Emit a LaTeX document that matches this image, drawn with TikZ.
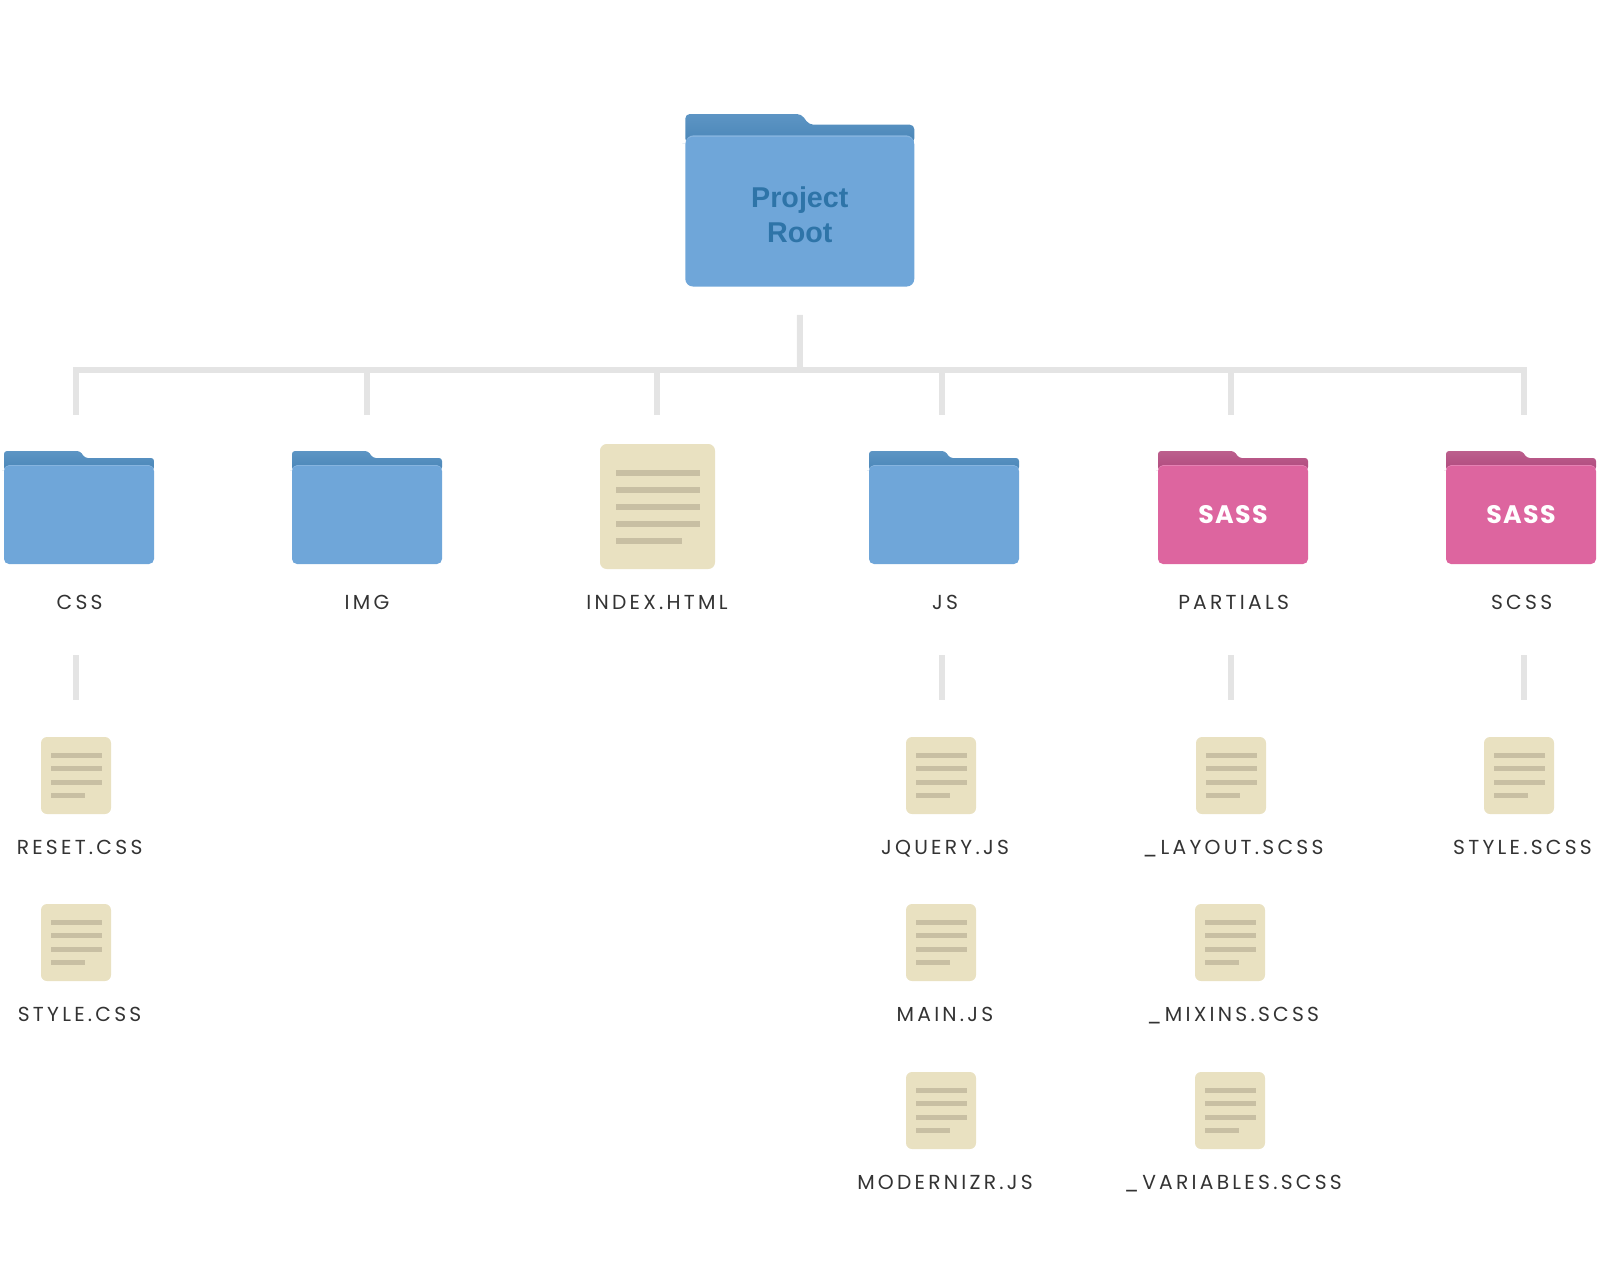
\documentclass[tikz,border=0pt]{standalone}
\usepackage{fontspec}
\newfontfamily\labelfont[LetterSpace=16]{Poppins}
\newfontfamily\sassfont[LetterSpace=5]{Poppins}
\newfontfamily\rootfont{Liberation Sans}
\definecolor{bluetab}{HTML}{5D95C4}
\definecolor{blueback}{HTML}{4A86B8}
\definecolor{bluelight}{HTML}{86B4DF}
\definecolor{bluefront}{HTML}{6FA6D9}
\definecolor{pinktab}{HTML}{BC5F8D}
\definecolor{pinkback}{HTML}{B04A7E}
\definecolor{pinklight}{HTML}{E581B3}
\definecolor{pinkfront}{HTML}{DD659F}
\definecolor{rootink}{HTML}{2E74A8}
\definecolor{papercol}{HTML}{E9E1C1}
\definecolor{papertxt}{HTML}{C8BFA3}
\definecolor{linkcol}{HTML}{E4E4E4}
\definecolor{labelink}{HTML}{333333}
\tikzset{
	link/.style={draw=linkcol,line width=4.5pt},
	foldbody/.style={rectangle,inner sep=0pt},
	filebig/.style={rectangle,inner sep=0pt,rounded corners=5pt,fill=papercol,minimum width=86.25pt,minimum height=93.75pt},
	filesmall/.style={rectangle,inner sep=0pt,rounded corners=4.5pt,fill=papercol,minimum width=52.5pt,minimum height=57.75pt},
	itemlabel/.style={anchor=base,inner sep=0pt,text=labelink,font=\labelfont\fontsize{15.2pt}{18pt}\selectfont},
	sasstext/.style={text=white,font=\sassfont\bfseries\fontsize{19pt}{22pt}\selectfont},
	roottext/.style={text=rootink,align=center,yshift=-2.3pt,inner sep=0pt,font=\rootfont\bfseries\fontsize{21.5pt}{26.8pt}\selectfont}
}
% name, left, top of tab, scale, colour prefix, text style, text
\newcommand{\foldericon}[7]{
	\begin{scope}[shift={(#2,#3)},scale=#4]
		\shade[top color=#5tab,bottom color=#5back,rounded corners=#4*2.2pt] (1,19) -- (0,19) -- (0,0) -- (76,0) -- (81,7) -- (150,7) -- (150,19) -- cycle;
		\fill[#5light,rounded corners=#4*3.75pt] (0.3,22) -- (0.3,14) -- (149.7,14) -- (149.7,22) -- cycle;
		\node[foldbody,rounded corners=#4*3.75pt,fill=#5front,minimum width=#4*112.5pt,minimum height=#4*73.5pt,#6] (#1) at (75,64) {#7};
	\end{scope}
}
% name, left, top
\newcommand{\smallfile}[3]{
	\node[filesmall] (#1) at (#2+35,#3+38.5) {};
	\fill[papertxt] (#2+10,#3+16) rectangle (#2+61,#3+21);
	\fill[papertxt] (#2+10,#3+29) rectangle (#2+61,#3+34);
	\fill[papertxt] (#2+10,#3+43) rectangle (#2+61,#3+48);
	\fill[papertxt] (#2+10,#3+56) rectangle (#2+44,#3+61);
}

\begin{document}
\begin{tikzpicture}[x=0.75pt,y=-0.75pt]
	\useasboundingbox (0,0) rectangle (1600,1272);
	\foldericon{root}{685.3}{114}{1.5267}{blue}{}{}
	\node[roottext] (roottitle) at (root) {Project\\Root};
	\foldericon{css}{4}{451}{1}{blue}{}{}
	\foldericon{img}{292}{451}{1}{blue}{}{}
	\foldericon{js}{869}{451}{1}{blue}{}{}
	\foldericon{partials}{1158}{451}{1}{pink}{sasstext}{SASS}
	\foldericon{scss}{1446}{451}{1}{pink}{sasstext}{SASS}
	\node[filebig] (index) at (657.5,506.5) {};
	\fill[papertxt] (616,470) rectangle (700,476);
	\fill[papertxt] (616,487) rectangle (700,493);
	\fill[papertxt] (616,504) rectangle (700,510);
	\fill[papertxt] (616,521) rectangle (700,527);
	\fill[papertxt] (616,538) rectangle (682,544);
	\coordinate (bus) at (800,370);
	\coordinate (busright) at (1524,370);
	\coordinate (tcss) at (76,415);
	\coordinate (timg) at (366.5,415);
	\coordinate (tindex) at (657,415);
	\coordinate (tjs) at (942,415);
	\coordinate (tpartials) at (1231,415);
	\coordinate (tscss) at (1524,415);
	\draw[link,shorten <=21pt] (root.south) -- (bus);
	\draw[link] (tcss) |- (busright) -- (tscss);
	\draw[link] (timg) -- (timg |- bus);
	\draw[link] (tindex) -- (tindex |- bus);
	\draw[link] (tjs) -- (tjs |- bus);
	\draw[link] (tpartials) -- (tpartials |- bus);
	\node[itemlabel] (csslabel) at (79.6,609.3) {CSS};
	\node[itemlabel] (imglabel) at (367,609.3) {IMG};
	\node[itemlabel] (indexlabel) at (657,609.3) {INDEX.HTML};
	\node[itemlabel] (jslabel) at (945,609.3) {JS};
	\node[itemlabel] (partialslabel) at (1233.6,609.3) {PARTIALS};
	\node[itemlabel] (scsslabel) at (1521.6,609.3) {SCSS};
	\coordinate (dcss) at (76,655);
	\coordinate (ecss) at (76,700);
	\coordinate (djs) at (942,655);
	\coordinate (ejs) at (942,700);
	\coordinate (dpartials) at (1231,655);
	\coordinate (epartials) at (1231,700);
	\coordinate (dscss) at (1524,655);
	\coordinate (escss) at (1524,700);
	\draw[link] (dcss) -- (ecss);
	\draw[link] (djs) -- (ejs);
	\draw[link] (dpartials) -- (epartials);
	\draw[link] (dscss) -- (escss);
	\smallfile{resetcss}{41}{737}
	\node[itemlabel] (resetcsslabel) at (79.6,854) {RESET.CSS};
	\smallfile{stylecss}{41}{904}
	\node[itemlabel] (stylecsslabel) at (79.6,1021.4) {STYLE.CSS};
	\smallfile{jquery}{906}{737}
	\node[itemlabel] (jquerylabel) at (945,854) {JQUERY.JS};
	\smallfile{mainjs}{906}{904}
	\node[itemlabel] (mainjslabel) at (945,1021.4) {MAIN.JS};
	\smallfile{modernizr}{906}{1072}
	\node[itemlabel] (modernizrlabel) at (945,1189.5) {MODERNIZR.JS};
	\smallfile{layout}{1196}{737}
	\node[itemlabel] (layoutlabel) at (1233,854) {\_LAYOUT.SCSS};
	\smallfile{mixins}{1195}{904}
	\node[itemlabel] (mixinslabel) at (1233,1021.4) {\_MIXINS.SCSS};
	\smallfile{variables}{1195}{1072}
	\node[itemlabel] (variableslabel) at (1233,1189.5) {\_VARIABLES.SCSS};
	\smallfile{stylescss}{1484}{737}
	\node[itemlabel] (stylescsslabel) at (1522.5,854) {STYLE.SCSS};
\end{tikzpicture}
\end{document}
